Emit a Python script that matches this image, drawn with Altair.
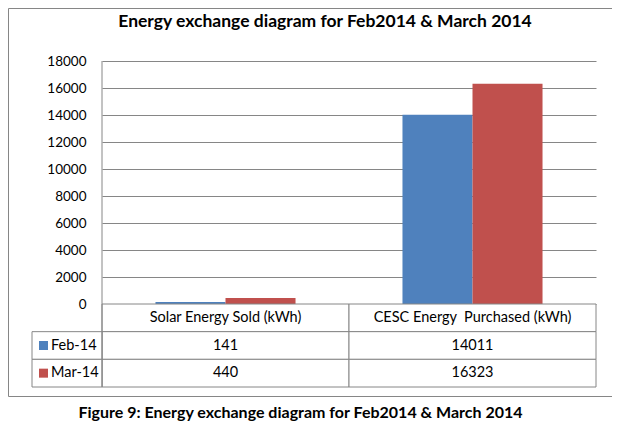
import altair as alt
import pandas as pd

# ---- data ----
categories = ["Solar Energy Sold (kWh)", "CESC Energy \u00a0Purchased (kWh)"]
series = ["Feb-14", "Mar-14"]
feb_values = [141, 14011]
mar_values = [440, 16323]
y_ticks = [0, 2000, 4000, 6000, 8000, 10000, 12000, 14000, 16000, 18000]
colors = ["#4F81BD", "#C0504D"]
title_text = "Energy exchange diagram for Feb2014 & March 2014"
caption_text = "Figure 9: Energy exchange diagram for Feb2014 & March 2014"

rows = ["header"] + series

bars_df = pd.DataFrame(
    [{"category": c, "series": s, "value": v}
     for s, vals in zip(series, [feb_values, mar_values])
     for c, v in zip(categories, vals)]
)

cells = []
for c in categories:
    cells.append({"category": c, "row": "header", "label": c})
for s, vals in zip(series, [feb_values, mar_values]):
    for c, v in zip(categories, vals):
        cells.append({"category": c, "row": s, "label": str(v)})
cells_df = pd.DataFrame(cells)
legend_df = pd.DataFrame({"row": series, "series": series})
one = pd.DataFrame({"t": [0]})

FONT = "Lato"
GRID = "#868686"

color_enc = alt.Color("series:N", scale=alt.Scale(domain=series, range=colors), legend=None)

bars = alt.Chart(bars_df).mark_bar().encode(
    x=alt.X("category:N", sort=categories,
            scale=alt.Scale(domain=categories, paddingInner=0.433, paddingOuter=0.2165),
            axis=None),
    xOffset=alt.XOffset("series:N", scale=alt.Scale(domain=series, paddingInner=0, paddingOuter=0)),
    y=alt.Y("value:Q", scale=alt.Scale(domain=[0, 18000], nice=False),
            axis=alt.Axis(values=y_ticks, format="d", grid=True, gridColor=GRID, gridWidth=1,
                          ticks=False, domain=False, labelFont=FONT, labelFontSize=13.5,
                          labelColor="black", labelPadding=16, title=None)),
    color=color_enc,
)

tx = alt.X("category:N", sort=categories,
           scale=alt.Scale(domain=categories, paddingInner=0, paddingOuter=0), axis=None)
ty = alt.Y("row:N", sort=rows,
           scale=alt.Scale(domain=rows, range=[243, 326], paddingInner=0, paddingOuter=0),
           axis=None)

cell_rects = alt.Chart(cells_df).mark_rect(fill="white", stroke=GRID, strokeWidth=1).encode(
    x=tx, y=ty
)
cell_text = alt.Chart(cells_df).mark_text(font=FONT, fontSize=14.5, color="black").encode(
    x=tx, y=ty, text="label:N"
)

ly = alt.Y("row:N", sort=rows,
           scale=alt.Scale(domain=rows, range=[243, 326], paddingInner=0, paddingOuter=0),
           axis=None)
legend_rects = alt.Chart(legend_df).mark_rect(fill="white", stroke=GRID, strokeWidth=1).encode(
    x=alt.value(-70), x2=alt.value(0), y=ly
)
legend_sq = alt.Chart(legend_df).mark_square(size=81, opacity=1).encode(
    x=alt.value(-58.5), y=ly, color=color_enc
)
legend_txt = alt.Chart(legend_df).mark_text(align="left", font=FONT, fontSize=14.5, color="black").encode(
    x=alt.value(-51), y=ly, text="series:N"
)

vline = alt.Chart(one).mark_rule(color=GRID, strokeWidth=1).encode(
    x=alt.value(0), y=alt.value(0), y2=alt.value(326)
)
frame = alt.Chart(one).mark_rect(fillOpacity=0, stroke=GRID, strokeWidth=1).encode(
    x=alt.value(-93.5), x2=alt.value(511.5), y=alt.value(-52.5), y2=alt.value(335.5)
)
title = alt.Chart(one).mark_text(font=FONT, fontSize=17.5, fontWeight="bold", color="black",
                                 align="center", baseline="alphabetic").encode(
    x=alt.value(223), y=alt.value(-34), text=alt.value(title_text)
)
caption = alt.Chart(one).mark_text(font=FONT, fontSize=16, fontWeight="bold", color="black",
                                   align="center", baseline="alphabetic").encode(
    x=alt.value(198.5), y=alt.value(356.5), text=alt.value(caption_text)
)

chart = alt.layer(
    frame, bars, cell_rects, legend_rects, vline, cell_text, legend_sq, legend_txt, title, caption
).resolve_scale(
    x="independent", y="independent"
).properties(
    width=494, height=243,
    autosize=alt.AutoSizeParams(type="none"),
    padding={"left": 94, "top": 53, "right": 16, "bottom": 119},
    background="white",
).configure_view(strokeWidth=0)

chart.save("out.html", embed_options={"renderer": "svg", "actions": False})
